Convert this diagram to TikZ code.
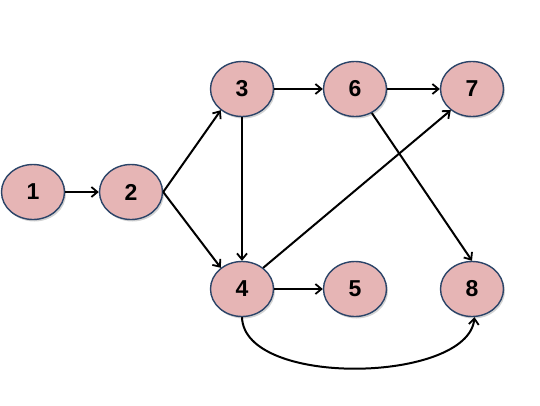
\documentclass[tikz,border=0pt]{standalone}
\usepackage{fontspec}
\setmainfont{Liberation Sans}
\usetikzlibrary{shapes.geometric,arrows.meta,shadows}
\definecolor{nodefill}{HTML}{E6B5B5}
\definecolor{nodeline}{HTML}{2B4468}
\begin{document}
\begin{tikzpicture}[x=1pt,y=-1pt,
  vert/.style={ellipse,draw=nodeline,line width=1.4pt,fill=nodefill,
    minimum width=63pt,minimum height=55pt,inner sep=0pt,
    font=\fontsize{23}{23}\selectfont\bfseries,
    drop shadow={shadow xshift=1.5pt,shadow yshift=-2pt,opacity=0.35,fill=gray}},
  edge/.style={-{Straight Barb[length=6pt,width=10pt,line width=1.8pt]},line width=2pt,black}]
\useasboundingbox (0,0) rectangle (540,405);
\node[vert] (n1) at (33,192) {1};
\node[vert] (n2) at (131,192) {2};
\node[vert] (n3) at (242,89) {3};
\node[vert] (n6) at (355,89) {6};
\node[vert] (n7) at (472,89) {7};
\node[vert] (n4) at (242,289) {4};
\node[vert] (n5) at (355,289) {5};
\node[vert] (n8) at (472,289) {8};
\draw[edge] (n1) -- (n2);
\draw[edge] (n2.east) -- (n3.-135);
\draw[edge] (n2.east) -- (n4.135);
\draw[edge] (n3) -- (n4);
\draw[edge] (n3) -- (n6);
\draw[edge] (n6) -- (n7);
\draw[edge] (n6.-55) -- (n8.north);
\draw[edge] (n4.45) -- (n7.-135);
\draw[edge] (n4) -- (n5);
\draw[edge] (n4.south) .. controls (244,388) and (468,383) .. (n8.-85);
\end{tikzpicture}
\end{document}
